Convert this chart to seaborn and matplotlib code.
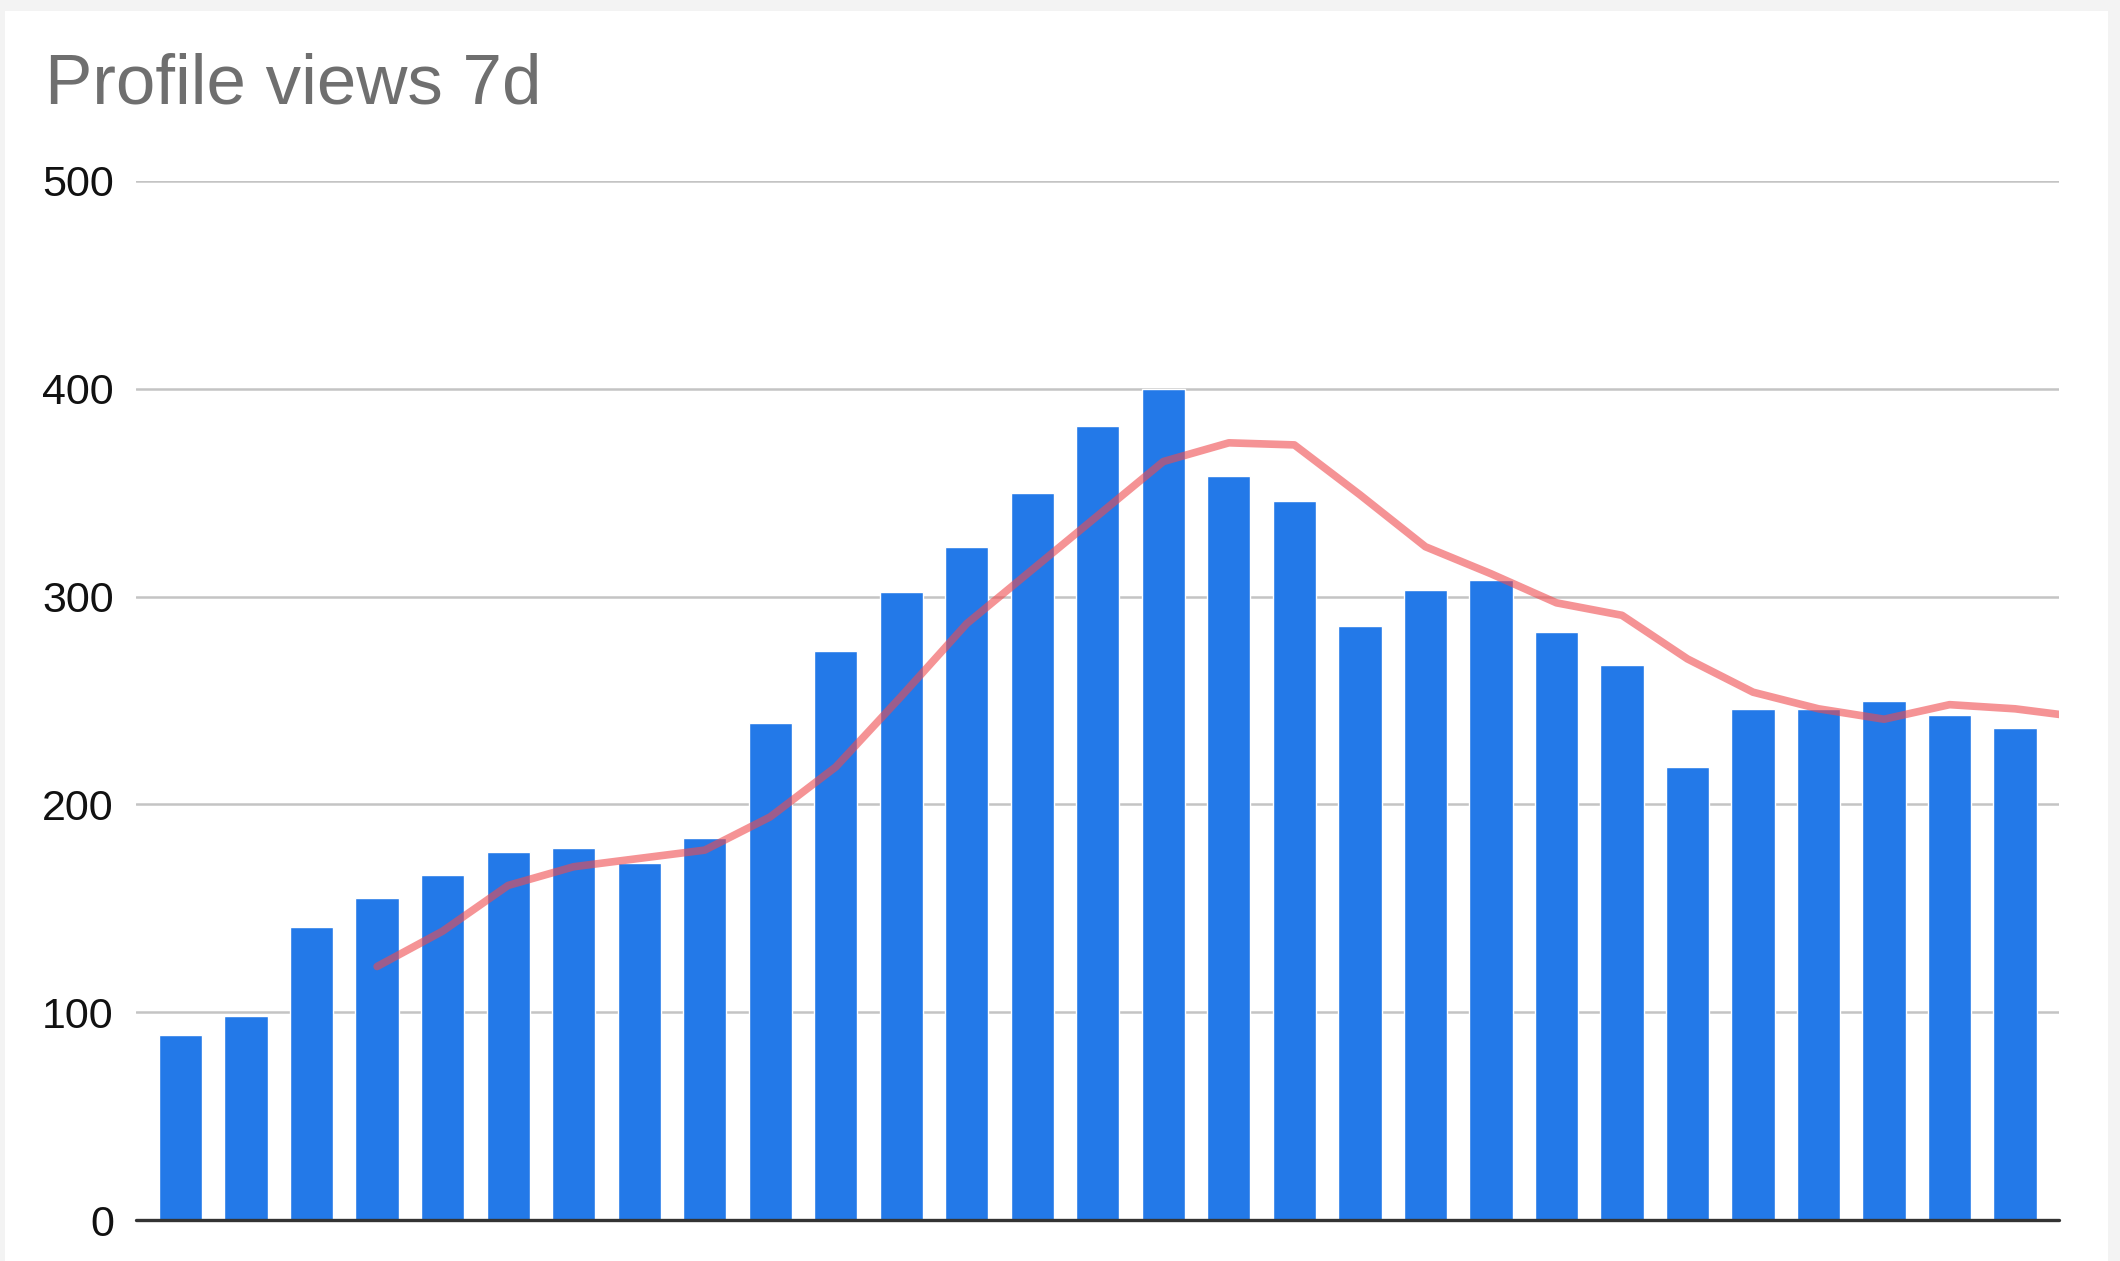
import numpy as np
import pandas as pd
import seaborn as sns
import matplotlib.pyplot as plt
from matplotlib.patches import Rectangle

# daily profile views (bars) and 7 day average (line)
days = list(range(29))
views = [89, 98, 141, 155, 166, 177, 179, 172, 184, 239,
         274, 302, 324, 350, 382, 400, 358, 346, 286, 303,
         308, 283, 267, 218, 246, 246, 250, 243, 237]
avg_days = list(range(3, 30))
avg_views = [122, 139, 161, 170, 174, 178, 194, 218, 252, 287,
             313, 339, 365, 374, 373, 349, 324, 311, 297, 291,
             270, 254, 246, 241, 248, 246, 242]
y_ticks = [0, 100, 200, 300, 400, 500]

bars_df = pd.DataFrame({'day': days, 'views': views})
line_df = pd.DataFrame({'day': avg_days, 'avg': avg_views})

sns.set_style('white')
plt.rcParams['font.family'] = ['Liberation Sans', 'DejaVu Sans']

fig = plt.figure(figsize=(21.2, 12.61), dpi=100, facecolor='#f3f3f3')

# white card behind the chart
bg = fig.add_axes([0, 0, 1, 1])
bg.set_axis_off()
bg.set_xlim(0, 1)
bg.set_ylim(0, 1)
bg.add_patch(Rectangle((5 / 2120, 0), (2108 - 5) / 2120, 1 - 11 / 1261,
                       facecolor='white', edgecolor='none'))

ax = fig.add_axes([136 / 2120, 1 - 1220 / 1261, (2059 - 136) / 2120, (1220 - 181) / 1261])
ax.set_facecolor('none')

sns.barplot(data=bars_df, x='day', y='views', color='#2379e8', saturation=1,
            width=0.66, ax=ax, zorder=2)
sns.lineplot(data=line_df, x='day', y='avg', color='#ef4b4f', alpha=0.6,
             linewidth=5.5, ax=ax, zorder=3)

ax.set_xlim(-0.68, 28.67)
ax.set_ylim(0, 500)
ax.set_yticks(y_ticks)
ax.set_yticklabels([str(t) for t in y_ticks], fontsize=31, color='#111111')
ax.tick_params(axis='y', length=0, pad=16)
ax.set_xticks([])
ax.set_xlabel('')
ax.set_ylabel('')
for s in ax.spines.values():
    s.set_visible(False)
for t in y_ticks[1:]:
    ax.axhline(t, color='#c4c4c4', linewidth=1.8, zorder=1)
ax.axhline(0, color='#333333', linewidth=2.4, zorder=4, clip_on=False)

fig.text(45 / 2120, 1 - 103 / 1261, 'Profile views 7d', fontsize=51,
         color='#6f6f6f', va='baseline', ha='left')

fig.savefig('out.png', dpi=100, facecolor=fig.get_facecolor())
